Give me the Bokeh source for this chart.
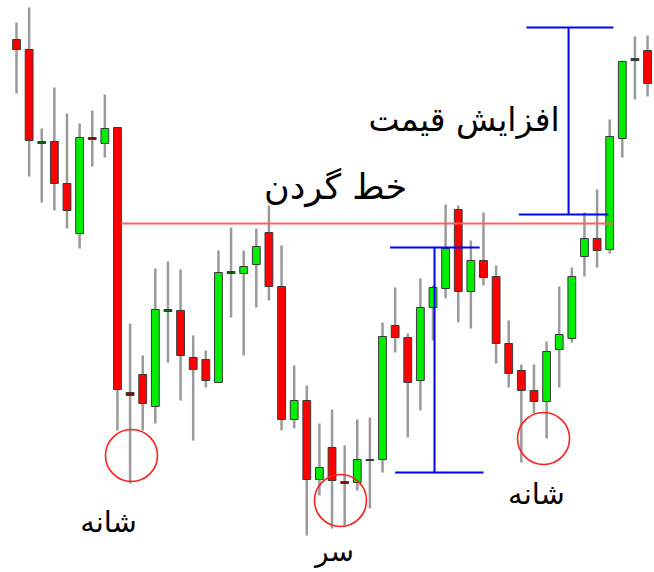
from bokeh.plotting import figure
from bokeh.models import Range1d, ColumnDataSource
from bokeh.core.properties import value
from bokeh.embed import file_html
from bokeh.resources import INLINE

# candle data (arbitrary price units), one entry per candle
opens  = [533, 523, 429, 431, 389, 339, 435, 429, 445, 180, 198, 166, 261, 262, 215, 213, 190, 299, 299, 308,
          340, 286, 153, 172, 93, 125, 91, 90, 112, 113, 247, 235, 192, 265, 284, 363, 281, 312, 296, 229,
          202, 182, 171, 223, 234, 316, 334, 323, 434, 512, 522]
highs  = [550, 565, 444, 485, 459, 449, 462, 478, 445, 249, 217, 304, 311, 303, 237, 222, 322, 345, 322, 344,
          367, 327, 207, 187, 149, 163, 127, 153, 155, 250, 285, 239, 294, 287, 368, 367, 332, 360, 307, 252,
          208, 208, 231, 286, 305, 360, 383, 453, 512, 536, 537]
lows   = [479, 396, 370, 362, 344, 324, 406, 415, 142, 89, 142, 149, 210, 172, 132, 185, 190, 255, 217, 265,
          272, 142, 144, 37, 77, 44, 47, 82, 64, 100, 220, 135, 162, 232, 274, 250, 244, 287, 209, 185,
          110, 159, 134, 185, 230, 296, 305, 319, 415, 473, 476]
closes = [523, 432, 431, 389, 362, 435, 433, 444, 183, 177, 169, 263, 263, 217, 203, 192, 300, 301, 306, 326,
          286, 153, 172, 93, 105, 92, 89, 113, 113, 236, 235, 190, 265, 285, 324, 281, 312, 295, 229, 199,
          182, 171, 221, 238, 296, 334, 322, 436, 511, 514, 489]

# labels
neck_label = "خط گردن"
rise_label = "افزایش قیمت"
shoulder_label = "شانه"
head_label = "سر"

idx = list(range(len(opens)))
up = [c >= o for o, c in zip(opens, closes)]
colors = ["#00ee00" if u else "#ff0000" for u in up]
tops = [max(o, c) for o, c in zip(opens, closes)]
bots = [min(o, c) for o, c in zip(opens, closes)]
# tiny bodies are drawn with darker fill (as in reference)
for i in idx:
    if tops[i] - bots[i] <= 3:
        colors[i] = "#006400" if up[i] else "#8b0000"

src = ColumnDataSource(dict(x=idx, high=highs, low=lows, top=tops, bottom=bots, color=colors))

p = figure(width=654, height=572, output_backend="svg", toolbar_location=None,
           x_range=Range1d(-1.268, 50.55), y_range=Range1d(0, 572),
           min_border=0, outline_line_color=None)
p.axis.visible = False
p.grid.visible = False
p.background_fill_color = "white"

# wicks
p.segment(x0="x", x1="x", y0="low", y1="high", source=src, line_color="#9a9a9a", line_width=2.5)
# bodies
p.vbar(x="x", width=0.62, top="top", bottom="bottom", source=src,
       fill_color="color", line_color="#3a3a3a", line_width=1)

# neckline
p.line(x=[8.3, 47.3], y=[349, 349], line_color="#ff6060", line_width=1.8)

# measurement brackets
blue = "#0000ff"
p.segment(x0=[33.12, 29.6, 30.0, 43.74, 40.4, 39.8],
          x1=[33.12, 36.7, 37.0, 43.74, 47.3, 46.9],
          y0=[325, 325, 100, 545, 545, 358],
          y1=[100, 325, 100, 358, 545, 358],
          line_color=blue, line_width=2)

# circles at shoulders and head
p.scatter(x=[9.11, 25.67, 41.76], y=[117, 72, 134], size=52, marker="circle",
          fill_color=None, line_color="#ff2020", line_width=1.6)

font = value("DejaVu Sans")
p.text(x=[35.46], y=[453], text=[rise_label], text_font=font, text_font_size="33px",
       text_align="center", text_baseline="middle", text_color="black")
p.text(x=[25.28], y=[386], text=[neck_label], text_font=font, text_font_size="35px",
       text_align="center", text_baseline="middle", text_color="black")
p.text(x=[7.29, 41.2], y=[51, 79], text=[shoulder_label, shoulder_label], text_font=font,
       text_font_size="29px", text_align="center", text_baseline="middle", text_color="black")
p.text(x=[25.2], y=[21], text=[head_label], text_font=font, text_font_size="28px",
       text_align="center", text_baseline="middle", text_color="black")

open("out.html", "w").write(file_html(p, INLINE))
